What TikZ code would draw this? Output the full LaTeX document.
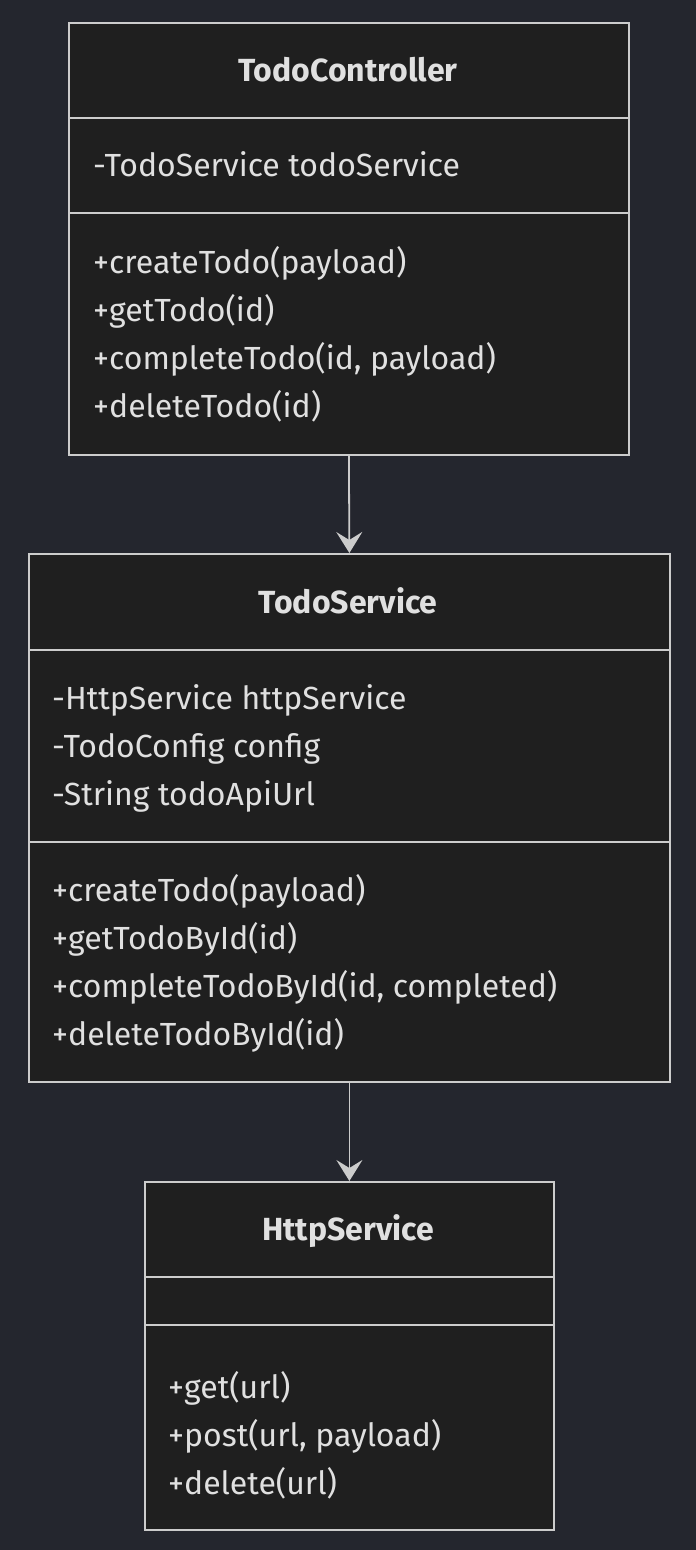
\documentclass[tikz,border=0pt]{standalone}
\usepackage{fontspec}
\setmainfont{Fira Sans}
\usetikzlibrary{arrows.meta}
\definecolor{bgc}{HTML}{24262E}
\definecolor{boxc}{HTML}{1F1F1F}
\definecolor{linec}{HTML}{CCCCCC}
\definecolor{txtc}{HTML}{E0E0E0}
\begin{document}
\begin{tikzpicture}[x=1pt,y=-1pt,
  umlbox/.style={draw=linec, fill=boxc, line width=1.8pt, anchor=north west, inner sep=0pt},
  divline/.style={draw=linec, line width=1.8pt},
  ttl/.style={text=txtc, font=\fontsize{32}{38}\selectfont\bfseries, anchor=base, inner sep=0pt},
  mem/.style={text=txtc, font=\fontsize{32}{38}\selectfont, anchor=base west, inner sep=0pt},
  dep/.style={draw=linec, line width=1.8pt, -{Stealth[length=21pt,width=26pt,inset=8pt]}}
]
\fill[bgc] (0,0) rectangle (696,1550);
\useasboundingbox (0,0) rectangle (696,1550);

% TodoController
\node[umlbox, minimum width=560pt, minimum height=432pt] (tc) at (68,22) {};
\draw[divline] (68,118) -- (628,118);
\draw[divline] (68,213) -- (628,213);
\node[ttl] (tct) at (348,81) {TodoController};
\node[mem] (tca1) at (93,176) {-TodoService todoService};
\node[mem] (tcm1) at (93,273) {+createTodo(payload)};
\node[mem] (tcm2) at (93,321) {+getTodo(id)};
\node[mem] (tcm3) at (93,369) {+completeTodo(id, payload)};
\node[mem] (tcm4) at (93,417) {+deleteTodo(id)};

% TodoService
\node[umlbox, minimum width=641pt, minimum height=528pt] (ts) at (28,553) {};
\draw[divline] (28,650) -- (669,650);
\draw[divline] (28,842) -- (669,842);
\node[ttl] (tst) at (348,613) {TodoService};
\node[mem] (tsa1) at (52,709) {-HttpService httpService};
\node[mem] (tsa2) at (52,757) {-TodoConfig config};
\node[mem] (tsa3) at (52,805) {-String todoApiUrl};
\node[mem] (tsm1) at (52,901) {+createTodo(payload)};
\node[mem] (tsm2) at (52,949) {+getTodoById(id)};
\node[mem] (tsm3) at (52,997) {+completeTodoById(id, completed)};
\node[mem] (tsm4) at (52,1045) {+deleteTodoById(id)};

% HttpService
\node[umlbox, minimum width=409pt, minimum height=348pt] (hs) at (144,1181) {};
\draw[divline] (144,1277) -- (553,1277);
\draw[divline] (144,1325) -- (553,1325);
\node[ttl] (hst) at (348,1240) {HttpService};
\node[mem] (hsm1) at (168,1398) {+get(url)};
\node[mem] (hsm2) at (168,1446) {+post(url, payload)};
\node[mem] (hsm3) at (168,1494) {+delete(url)};

% connectors
\draw[dep] (tc.south) -- (ts.north);
\draw[dep] (ts.south) -- (hs.north);
\end{tikzpicture}
\end{document}
